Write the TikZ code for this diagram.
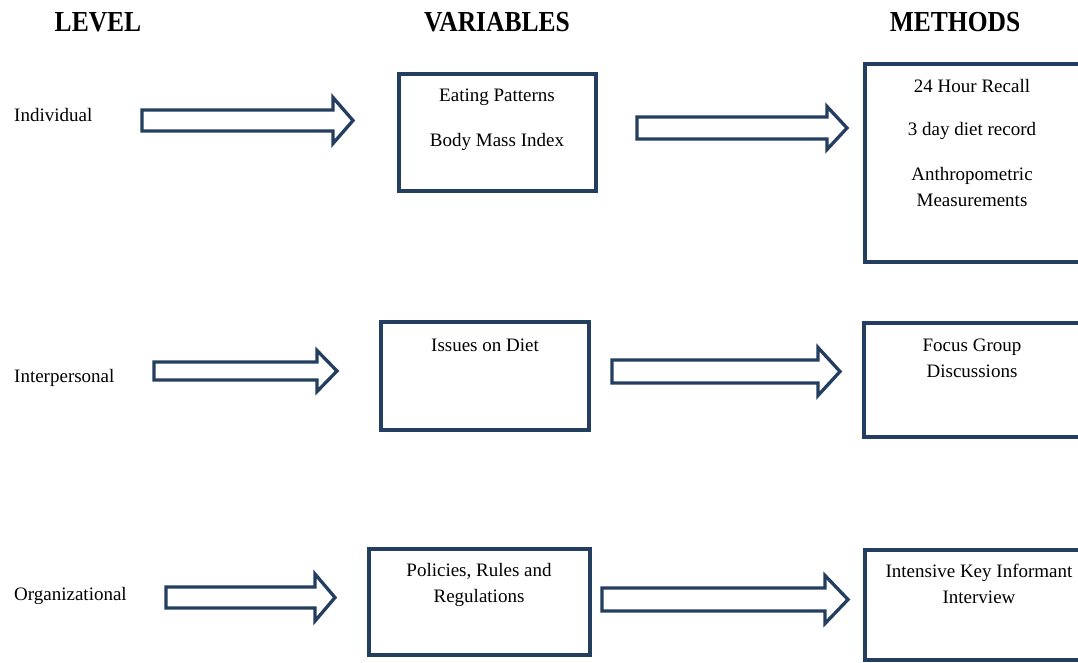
\documentclass[tikz,border=0pt]{standalone}
\usepackage{fontspec}
\setmainfont{Liberation Serif}
\definecolor{navy}{RGB}{36,62,96}
\newcommand\blockarrow[6]{% left, head base, tip, y centre, half shaft, half head
  \draw[barrow] (#1,{#4-#5}) -- (#2,{#4-#5}) -- (#2,{#4-#6}) -- (#3,#4)
    -- (#2,{#4+#6}) -- (#2,{#4+#5}) -- (#1,{#4+#5}) -- cycle;}
\tikzset{
  box/.style={draw=navy, line width=3.3pt, rectangle, inner sep=0pt, fill=none},
  barrow/.style={draw=navy, line width=3.3pt, line join=miter, fill=white},
  txt/.style={inner sep=0pt, font=\fontsize{19}{26.5}\selectfont, align=center, text=black},
  lvl/.style={inner sep=0pt, anchor=west, font=\fontsize{19}{23}\selectfont, text=black},
  hdr/.style={inner sep=0pt, font=\fontsize{29}{29}\selectfont\bfseries, text=black},
}
\begin{document}
\begin{tikzpicture}[x=1pt,y=-1pt]
\clip (0,0) rectangle (1078,662);
\fill[white] (0,0) rectangle (1078,662);
% headers
\node[hdr] (hL) at (98,22) {\scalebox{0.88}[1]{LEVEL}};
\node[hdr] (hV) at (497,22) {\scalebox{0.88}[1]{VARIABLES}};
\node[hdr] (hM) at (955,22) {\scalebox{0.88}[1]{METHODS}};
% level labels
\node[lvl] (l1) at (14,114.5) {Individual};
\node[lvl] (l2) at (14,377.5) {Interpersonal};
\node[lvl] (l3) at (14,595.5) {Organizational};
% boxes
\node[box, minimum width=197pt, minimum height=117pt] (v1) at (497.5,132.5) {};
\node[box, minimum width=235pt, minimum height=198pt] (m1) at (982.5,163) {};
\node[box, minimum width=208pt, minimum height=108pt] (v2) at (485,376) {};
\node[box, minimum width=236pt, minimum height=114pt] (m2) at (982,380) {};
\node[box, minimum width=221pt, minimum height=106pt] (v3) at (479.5,602) {};
\node[box, minimum width=235pt, minimum height=110pt] (m3) at (982.5,605) {};
% box texts
\node[txt] (v1a) at (497,97.5) {Eating Patterns};
\node[txt] (v1b) at (497,141.5) {Body Mass Index};
\node[txt] (m1a) at (972,86) {24 Hour Recall};
\node[txt] (m1b) at (972,130.5) {3 day diet record};
\node[txt] (m1c) at (972,187) {Anthropometric\\Measurements};
\node[txt] (v2a) at (485,345) {Issues on Diet};
\node[txt] (m2a) at (972,358.5) {Focus Group\\Discussions};
\node[txt] (v3a) at (479,585) {Policies, Rules and\\Regulations};
\node[txt] (m3a) at (979,584) {Intensive Key Informant\\Interview};
% block arrows
\blockarrow{142}{333}{353}{120.5}{10.5}{23}
\blockarrow{637}{827}{847}{128}{11}{21.5}
\blockarrow{154}{317}{337}{371}{9}{20.5}
\blockarrow{612}{818}{840}{371.5}{11.5}{24}
\blockarrow{166}{315}{335}{597.5}{10.5}{23.5}
\blockarrow{602}{825}{848}{599.5}{11.5}{24}
\end{tikzpicture}
\end{document}
